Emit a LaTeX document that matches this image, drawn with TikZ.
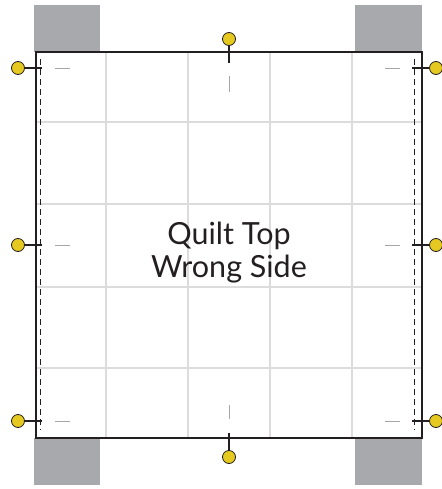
\documentclass[tikz,border=0pt]{standalone}
\usepackage{fontspec}
\setmainfont{Lato}
\definecolor{tabgray}{HTML}{A7A9AC}
\definecolor{gridgray}{HTML}{DCDCDC}
\definecolor{pinyellow}{HTML}{E6C920}
\definecolor{edgeblack}{HTML}{231F20}
\begin{document}
\begin{tikzpicture}[x=1pt,y=-1pt,
  tab/.style={fill=tabgray,draw=none},
  gridline/.style={draw=gridgray,line width=2pt},
  pin/.style={circle,draw=edgeblack,fill=pinyellow,line width=0.8pt,minimum size=13pt,inner sep=0pt},
  pinline/.style={draw=edgeblack,line width=1.2pt},
  tick/.style={draw=gray!70,line width=0.9pt},
  seam/.style={draw=edgeblack,line width=0.9pt,dash pattern=on 6pt off 4pt}]
\useasboundingbox (0,0) rectangle (441,489);
% gray tabs
\fill[tab] (34,5) rectangle (100,52);
\fill[tab] (355,5) rectangle (422,52);
\fill[tab] (34,438) rectangle (100,485);
\fill[tab] (355,438) rectangle (422,485);
% quilt top
\fill[white] (36,52) rectangle (422,438);
\foreach \x in {106,188,270,352} \draw[gridline] (\x,52) -- (\x,438);
\foreach \y in {122,204,287,368} \draw[gridline] (36,\y) -- (422,\y);
\draw[edgeblack,line width=2.4pt] (36,52) rectangle (422,438);
% seam lines
\draw[seam] (40,59) -- (40,430);
\draw[seam] (414,59) -- (414,430);
% center label
\node[font=\fontsize{30.5}{33}\selectfont,align=center,text=edgeblack] (label) at (229,253) {Quilt Top\\Wrong Side};
% pins
\node[pin] (pl1) at (18,68) {};
\node[pin] (pl2) at (18,245) {};
\node[pin] (pl3) at (18,421) {};
\node[pin] (pr1) at (436,68) {};
\node[pin] (pr2) at (436,245) {};
\node[pin] (pr3) at (436,421) {};
\node[pin] (pt) at (229,39) {};
\node[pin] (pb) at (229,457) {};
\coordinate (el1) at (42,68);
\coordinate (el2) at (42,245);
\coordinate (el3) at (42,421);
\coordinate (er1) at (412,68);
\coordinate (er2) at (412,245);
\coordinate (er3) at (412,421);
\coordinate (et) at (229,63);
\coordinate (eb) at (229,433);
\draw[pinline] (pl1) -- (el1);
\draw[pinline] (pl2) -- (el2);
\draw[pinline] (pl3) -- (el3);
\draw[pinline] (pr1) -- (er1);
\draw[pinline] (pr2) -- (er2);
\draw[pinline] (pr3) -- (er3);
\draw[pinline] (pt) -- (et);
\draw[pinline] (pb) -- (eb);
% marking ticks
\foreach \y in {68,245,421} {
  \draw[tick] (55,\y) -- (70,\y);
  \draw[tick] (385,\y) -- (400,\y);
}
\draw[tick] (229,76) -- (229,92);
\draw[tick] (229,405) -- (229,419);
\end{tikzpicture}
\end{document}
